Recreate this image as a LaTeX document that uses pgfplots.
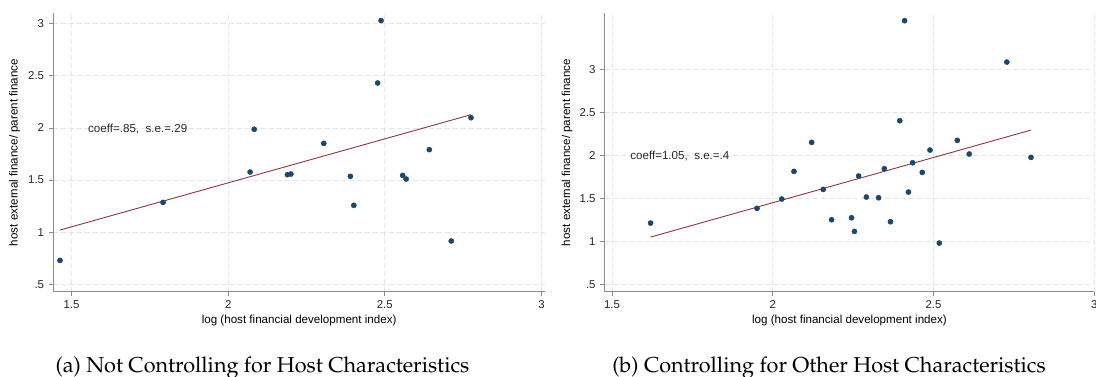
\documentclass[border=0pt]{standalone}
\usepackage[T1]{fontenc}
\usepackage{fontspec}
\usepackage{pgfplots}
\pgfplotsset{compat=1.18}
\setmainfont{Liberation Sans}
\setsansfont{Liberation Sans}
\newcommand{\capfont}{\fontencoding{T1}\fontfamily{ppl}\selectfont}
\newcommand{\lblfont}{\fontsize{11.6}{13}\selectfont}
\newcommand{\tf}{\fontsize{11.4}{13}\selectfont}
\definecolor{stnavy}{HTML}{1A476F}
\definecolor{stmaroon}{HTML}{90353B}
\definecolor{stgray}{HTML}{8C8C8C}
\definecolor{stgrid}{HTML}{E4E4E4}
\pgfplotsset{
  statastyle/.style={
    scale only axis, height=278.4pt,
    axis lines=left, axis line style={-, stgray, line width=1.1pt},
    tick align=outside, major tick length=4.5pt,
    tick style={stgray, line width=0.8pt},
    grid=major, major grid style={stgrid, dashed, dash pattern=on 5pt off 3pt, line width=0.8pt},
    xtick={1.5,2,2.5,3}, xticklabels={{\tf 1.5},{\tf 2},{\tf 2.5},{\tf 3}},
    ytick={0.5,1,1.5,2,2.5,3}, yticklabels={{\tf .5},{\tf 1},{\tf 1.5},{\tf 2},{\tf 2.5},{\tf 3}},
    ticklabel style={text=black!85},
    xticklabel style={yshift=-0.5pt},
    yticklabel style={xshift=-1pt},
    label style={text=black!85},
    every axis x label/.style={at={(axis description cs:0.5,0)}, yshift=-29pt, anchor=center},
    xlabel={\lblfont log (host financial development index)},
    ylabel={\lblfont host external finance/ parent finance},
    clip=false,
  },
  scat/.style={only marks, mark=*, mark size=2.6pt, mark options={fill=stnavy, draw=stnavy}},
  fitl/.style={no marks, stmaroon, line width=0.9pt},
}
\begin{document}
\begin{tikzpicture}
\useasboundingbox (0,0) rectangle (1096pt,377pt);
% Left panel
\begin{axis}[statastyle, width=492.1pt, at={(53.1pt,85.3pt)}, anchor=south west,
  every axis y label/.style={at={(axis description cs:0,0.5)}, xshift=-38.5pt, rotate=90, anchor=center},
  xmin=1.441, xmax=3.012, ymin=0.43, ymax=3.099]
\addplot[scat] coordinates {
(1.463,0.730) (1.792,1.286) (2.070,1.577) (2.083,1.987) (2.189,1.552)
(2.200,1.558) (2.305,1.852) (2.390,1.536) (2.401,1.258) (2.477,2.431)
(2.488,3.029) (2.557,1.545) (2.568,1.510) (2.642,1.792) (2.712,0.916)
(2.775,2.098)};
\addplot[fitl] coordinates {(1.463,1.021) (2.775,2.127)};
\node[anchor=west, font=\lblfont, text=black!85] at (axis cs:1.5415,1.99) {coeff=.85,\ \ s.e.=.29};
\end{axis}
% Right panel
\begin{axis}[statastyle, width=489.7pt, at={(604.6pt,85.3pt)}, anchor=south west,
  every axis y label/.style={at={(axis description cs:0,0.5)}, xshift=-37.6pt, rotate=90, anchor=center},
  xmin=1.477, xmax=3.0, ymin=0.415, ymax=3.657]
\addplot[scat] coordinates {
(1.620,1.214) (1.951,1.385) (2.028,1.494) (2.066,1.816) (2.121,2.154)
(2.157,1.606) (2.183,1.253) (2.245,1.276) (2.254,1.117) (2.267,1.762)
(2.291,1.517) (2.329,1.509) (2.347,1.847) (2.366,1.230) (2.395,2.406)
(2.410,3.571) (2.422,1.575) (2.435,1.917) (2.465,1.804) (2.489,2.064)
(2.518,0.981) (2.574,2.177) (2.611,2.018) (2.728,3.089) (2.803,1.979)};
\addplot[fitl] coordinates {(1.620,1.051) (2.803,2.297)};
\node[anchor=west, font=\lblfont, text=black!85] at (axis cs:1.546,2.0) {coeff=1.05,\ \ s.e.=.4};
\end{axis}
\node[font=\capfont\fontsize{21.6}{24}\selectfont, anchor=base] at (262.5pt,4pt) {(a) Not Controlling for Host Characteristics};
\node[font=\capfont\fontsize{21.6}{24}\selectfont, anchor=base] at (829pt,4pt) {(b) Controlling for Other Host Characteristics};
\end{tikzpicture}
\end{document}
